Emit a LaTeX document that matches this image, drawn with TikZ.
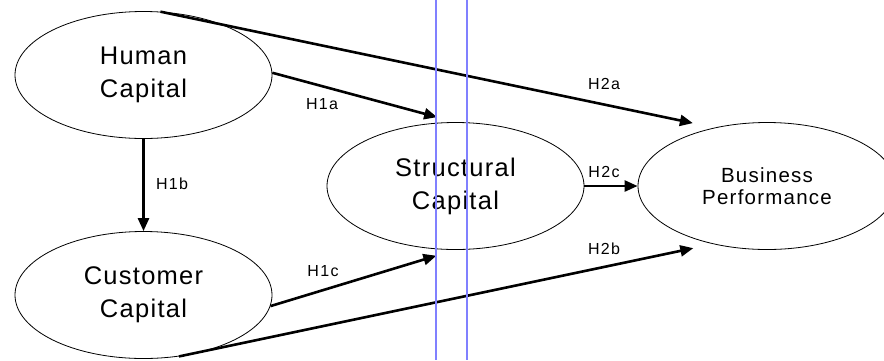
\documentclass[tikz,border=0pt]{standalone}
\usepackage{fontspec}
\setmainfont{Liberation Sans}
\usetikzlibrary{arrows.meta,shapes.geometric}
\definecolor{guideblue}{RGB}{128,128,255}

\begin{document}
\begin{tikzpicture}[x=1pt,y=-1pt,
  construct/.style={draw,ellipse,line width=0.8pt,minimum width=257pt,minimum height=127pt,inner sep=0pt,align=center,
    font=\fontsize{25.5}{33}\selectfont\addfontfeature{LetterSpace=5}},
  hyp/.style={line width=2.6pt,-{Triangle[length=13pt,width=11pt]}},
  hlabel/.style={inner sep=0pt,font=\fontsize{16}{18}\selectfont\addfontfeature{LetterSpace=8}},
  guide/.style={guideblue,line width=1.2pt}]
  \useasboundingbox (0,0) rectangle (884,360);
  % constructs
  \node[construct] (hc) at (143.5,75) {Human\\Capital};
  \node[construct] (cc) at (143.5,295) {Customer\\Capital};
  \node[construct] (sc) at (455.5,186) {Structural\\Capital};
  \node[construct,minimum width=258pt,font=\fontsize{20.5}{22}\selectfont\addfontfeature{LetterSpace=6}] (bp) at (767,186) {Business\\Performance};
  % hypotheses
  \draw[hyp] (hc.south) -- (cc.north);
  \draw[hyp,shorten >=19pt] (hc.1) -- (sc.north);
  \draw[hyp,shorten >=20pt] (cc.-5) -- (sc.south);
  \draw[hyp] (sc.east) -- (bp.west);
  \draw[hyp,shorten >=22pt] (hc.75) -- (bp.132);
  \draw[hyp,shorten >=20pt] (cc.-60) -- (bp.-133);
  % labels
  \foreach \n/\x/\y/\t in {l1a/322/104/H1a,l1b/172/184/H1b,l1c/323/271/H1c,
                           l2a/604/84/H2a,l2b/604/249/H2b,l2c/604/172/H2c}
    {\node[hlabel] (\n) at (\x,\y) {\t};}
  % guide lines
  \foreach \gx in {436,467}{\draw[guide] (\gx,0) -- (\gx,360);}
\end{tikzpicture}
\end{document}
